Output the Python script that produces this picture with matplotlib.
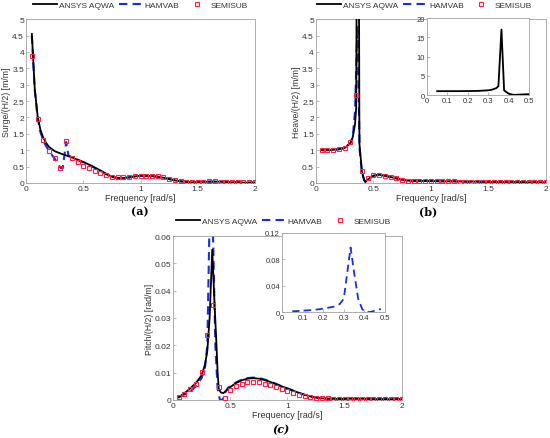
import numpy as np
import matplotlib
matplotlib.use("Agg")
import matplotlib.pyplot as plt
from matplotlib.ticker import FormatStrFormatter

# ---- data ----
# (a) surge
surge_aqwa_f = [0.05, 0.075, 0.1, 0.125, 0.15, 0.175, 0.2, 0.25, 0.3, 0.35, 0.4, 0.45, 0.5, 0.55,
                0.6, 0.65, 0.7, 0.75, 0.8, 0.85, 0.9, 0.95, 1.0, 1.05, 1.1, 1.15, 1.2, 1.25, 1.3,
                1.35, 1.4, 1.45, 1.5, 1.55, 1.6, 1.65, 1.7, 1.75, 1.8, 1.85, 1.9, 1.95, 2.0]
surge_aqwa = [4.55, 2.9, 2.05, 1.62, 1.38, 1.22, 1.1, 0.97, 0.9, 0.84, 0.78, 0.71, 0.64, 0.56,
              0.47, 0.38, 0.28, 0.19, 0.15, 0.15, 0.17, 0.2, 0.22, 0.22, 0.21, 0.19, 0.16, 0.12,
              0.08, 0.05, 0.03, 0.02, 0.02, 0.03, 0.04, 0.04, 0.04, 0.03, 0.02, 0.02, 0.01, 0.01, 0.01]
surge_ham_f = [0.05, 0.075, 0.1, 0.125, 0.15, 0.175, 0.2, 0.25, 0.3, 0.32, 0.35, 0.37, 0.4, 0.45,
               0.5, 0.55, 0.6, 0.65, 0.7, 0.75, 0.8, 0.85, 0.9, 0.95, 1.0, 1.05, 1.1, 1.15, 1.2,
               1.25, 1.3, 1.35, 1.4, 1.45, 1.5, 1.55, 1.6, 1.65, 1.7, 1.75, 1.8, 1.85, 1.9, 1.95, 2.0]
surge_ham = [4.5, 2.85, 2.0, 1.55, 1.3, 1.12, 0.97, 0.74, 0.46, 0.45, 1.25, 0.84, 0.78, 0.7,
             0.63, 0.55, 0.46, 0.37, 0.27, 0.19, 0.15, 0.15, 0.17, 0.2, 0.22, 0.22, 0.21, 0.19,
             0.16, 0.12, 0.08, 0.05, 0.03, 0.02, 0.02, 0.03, 0.04, 0.04, 0.04, 0.03, 0.02, 0.02,
             0.01, 0.01, 0.01]
semi_f = [0.05, 0.1, 0.15, 0.2, 0.25, 0.3, 0.35, 0.4, 0.45, 0.5, 0.55, 0.6, 0.65, 0.7, 0.75, 0.8,
          0.85, 0.9, 0.95, 1.0, 1.05, 1.1, 1.15, 1.2, 1.25, 1.3, 1.35, 1.4, 1.45, 1.5, 1.55, 1.6,
          1.65, 1.7, 1.75, 1.8, 1.85, 1.9, 1.95, 2.0]
surge_semi = [3.88, 1.95, 1.3, 0.97, 0.75, 0.45, 1.27, 0.77, 0.63, 0.53, 0.45, 0.36, 0.29, 0.23,
              0.18, 0.17, 0.17, 0.18, 0.2, 0.22, 0.22, 0.21, 0.2, 0.17, 0.12, 0.08, 0.06, 0.04,
              0.03, 0.03, 0.04, 0.05, 0.05, 0.04, 0.03, 0.03, 0.02, 0.02, 0.02, 0.02]

# (b) heave
heave_aqwa_f = [0.05, 0.1, 0.15, 0.2, 0.25, 0.3, 0.32, 0.34, 0.35, 0.365, 0.378, 0.4, 0.42, 0.43,
                0.45, 0.5, 0.55, 0.6, 0.65, 0.7, 0.75, 0.8, 0.9, 1.0, 1.1, 1.2, 1.3, 1.4, 1.5,
                1.6, 1.7, 1.8, 1.9, 2.0]
heave_aqwa = [1.0, 1.0, 1.01, 1.03, 1.07, 1.22, 1.4, 1.8, 2.3, 17.0, 1.2, 0.35, 0.08, 0.03,
              0.1, 0.22, 0.25, 0.22, 0.18, 0.14, 0.1, 0.07, 0.06, 0.06, 0.05, 0.05, 0.04, 0.04,
              0.03, 0.03, 0.03, 0.02, 0.02, 0.02]
heave_ham_f = [0.05, 0.1, 0.15, 0.2, 0.25, 0.3, 0.32, 0.34, 0.36, 0.38, 0.4, 0.42, 0.43, 0.45,
               0.5, 0.55, 0.6, 0.65, 0.7, 0.75, 0.8, 0.9, 1.0, 1.1, 1.2, 1.3, 1.4, 1.5, 1.6,
               1.7, 1.8, 1.9, 2.0]
heave_ham = [1.0, 1.0, 1.01, 1.03, 1.07, 1.22, 1.4, 2.2, 4.8, 1.0, 0.3, 0.08, 0.03, 0.1,
             0.22, 0.25, 0.22, 0.18, 0.14, 0.1, 0.07, 0.06, 0.06, 0.05, 0.05, 0.04, 0.04,
             0.03, 0.03, 0.03, 0.02, 0.02, 0.02]
heave_semi = [1.0, 1.0, 1.01, 1.03, 1.08, 1.25, 2.7, 0.35, 0.15, 0.25, 0.25, 0.22, 0.18, 0.14,
              0.1, 0.07, 0.06, 0.06, 0.06, 0.05, 0.05, 0.05, 0.05, 0.05, 0.04, 0.04, 0.04, 0.03,
              0.03, 0.03, 0.03, 0.03, 0.02, 0.02, 0.02, 0.02, 0.02, 0.02, 0.02, 0.02]

# (c) pitch
pitch_aqwa_f = [0.05, 0.1, 0.15, 0.2, 0.25, 0.28, 0.3, 0.32, 0.343, 0.36, 0.38, 0.39, 0.4, 0.42,
                0.44, 0.46, 0.5, 0.55, 0.6, 0.65, 0.7, 0.75, 0.8, 0.85, 0.9, 0.95, 1.0, 1.05,
                1.1, 1.15, 1.2, 1.25, 1.3, 1.4, 1.5, 1.6, 1.7, 1.8, 1.9, 2.0]
pitch_aqwa = [0.001, 0.0025, 0.0042, 0.0062, 0.009, 0.013, 0.018, 0.03, 0.055, 0.038, 0.02,
              0.01, 0.004, 0.0027, 0.0025, 0.0033, 0.0047, 0.0062, 0.0072, 0.0078, 0.008,
              0.0078, 0.0073, 0.0066, 0.0058, 0.005, 0.0042, 0.0034, 0.0026, 0.0019, 0.0013,
              0.0009, 0.0006, 0.0004, 0.0004, 0.0005, 0.0004, 0.0003, 0.0003, 0.0003]
pitch_ham_f = [0.05, 0.1, 0.15, 0.2, 0.25, 0.28, 0.3, 0.333, 0.35, 0.37, 0.39, 0.41, 0.43, 0.46,
               0.48, 0.5, 0.55, 0.6, 0.65, 0.7, 0.75, 0.8, 0.85, 0.9, 0.95, 1.0, 1.05, 1.1,
               1.15, 1.2, 1.25, 1.3, 1.4, 1.5, 1.6, 1.7, 1.8, 1.9, 2.0]
pitch_ham = [0.001, 0.002, 0.003, 0.005, 0.008, 0.012, 0.02, 0.098, 0.06, 0.02, 0.004, 0.0,
             0.0, 0.003, 0.0045, 0.005, 0.0064, 0.0074, 0.008, 0.0082, 0.008, 0.0075, 0.0067,
             0.0059, 0.005, 0.0042, 0.0034, 0.0026, 0.0019, 0.0013, 0.0009, 0.0006, 0.0004,
             0.0004, 0.0005, 0.0004, 0.0003, 0.0003, 0.0003]
pitch_semi = [0.001, 0.0022, 0.004, 0.006, 0.0102, 0.0238, 0.0347, 0.0047, 0.0008, 0.0035,
              0.005, 0.006, 0.0065, 0.0067, 0.0066, 0.006, 0.0054, 0.0047, 0.004, 0.0033,
              0.0026, 0.002, 0.0015, 0.0012, 0.0009, 0.0007, 0.0006, 0.0005, 0.0005, 0.0005,
              0.0005, 0.0005, 0.0005, 0.0004, 0.0004, 0.0004, 0.0003, 0.0003, 0.0003, 0.0003]

BLUE = '#1a2fd6'
RED = '#ff2040'
TXT = '#333333'
SPINE = '#a0a0a0'

plt.rcParams['font.family'] = ['Liberation Sans', 'DejaVu Sans']
plt.rcParams['font.size'] = 6

fig = plt.figure(figsize=(5.5, 4.39), dpi=100)


def style(ax, fs=6):
    for s in ax.spines.values():
        s.set_color(SPINE)
        s.set_linewidth(0.6)
    ax.tick_params(direction='in', length=2, width=0.5, color=SPINE, pad=1.5,
                   labelsize=fs, labelcolor=TXT, top=False, right=False)
    ax.xaxis.set_major_formatter(FormatStrFormatter('%g'))
    ax.yaxis.set_major_formatter(FormatStrFormatter('%g'))


def main_panel(rect, aqwa_f, aqwa, ham_f, ham, semi, ylim, yticks, ylabel):
    ax = fig.add_axes(rect)
    ax.plot(ham_f, ham, '--', color=BLUE, lw=1.5, dashes=(4, 2.5), zorder=2)
    ax.plot(aqwa_f, aqwa, '-', color='black', lw=1.3, zorder=3)
    ax.plot(semi_f, semi, 's', ms=3.2, mfc='none', mec=RED, mew=0.8, zorder=4)
    ax.set_xlim(0, 2)
    ax.set_ylim(*ylim)
    ax.set_xticks([0, 0.5, 1, 1.5, 2])
    ax.set_yticks(yticks)
    ax.set_xlabel('Frequency [rad/s]', fontsize=6.5, color=TXT, labelpad=1)
    ax.set_ylabel(ylabel, fontsize=6.3, color=TXT, labelpad=0.5)
    style(ax)
    return ax


def legend_at(x, y):
    h1, = plt.plot([], [], '-', color='black', lw=1.3)
    h2, = plt.plot([], [], '--', color=BLUE, lw=1.5, dashes=(4, 2.5))
    h3, = plt.plot([], [], 's', ms=3.2, mfc='none', mec=RED, mew=0.8)
    fig.legend([h1, h2, h3], ['ANSYS AQWA', 'HAMVAB', 'SEMISUB'], loc='center',
               bbox_to_anchor=(x, y), ncol=3, frameon=False, fontsize=6,
               handlelength=2.9, handletextpad=0.2, columnspacing=0.6, labelcolor=TXT)


ax_a = main_panel([0.0475, 0.581, 0.416, 0.373], surge_aqwa_f, surge_aqwa, surge_ham_f,
                  surge_ham, surge_semi, (0, 5), np.arange(0, 5.01, 0.5), 'Surge/(H/2) [m/m]')
ax_b = main_panel([0.5745, 0.581, 0.418, 0.373], heave_aqwa_f, heave_aqwa, heave_ham_f,
                  heave_ham, heave_semi, (0, 5), np.arange(0, 5.01, 0.5), 'Heave/(H/2) [m/m]')
ax_c = main_panel([0.3145, 0.0866, 0.4164, 0.3735], pitch_aqwa_f, pitch_aqwa, pitch_ham_f,
                  pitch_ham, pitch_semi, (0, 0.06), [0, 0.01, 0.02, 0.03, 0.04, 0.05, 0.06],
                  'Pitch/(H/2) [rad/m]')

# insets
in_b = fig.add_axes([0.7764, 0.7813, 0.1854, 0.1754])
fb = np.array(heave_aqwa_f)
in_b.plot(fb[fb <= 0.5], np.array(heave_aqwa)[fb <= 0.5], '-', color='black', lw=1.3)
in_b.set_xlim(0, 0.5)
in_b.set_ylim(0, 20)
in_b.set_xticks([0, 0.1, 0.2, 0.3, 0.4, 0.5])
in_b.set_yticks([0, 5, 10, 15, 20])
style(in_b, 5.5)

in_c = fig.add_axes([0.5127, 0.287, 0.1873, 0.18])
fc = np.array(pitch_ham_f)
in_c.plot(fc[fc <= 0.48], np.array(pitch_ham)[fc <= 0.48], '--', color=BLUE, lw=1.3,
          dashes=(4, 2.5))
in_c.set_xlim(0, 0.5)
in_c.set_ylim(0, 0.12)
in_c.set_xticks([0, 0.1, 0.2, 0.3, 0.4, 0.5])
in_c.set_yticks([0, 0.04, 0.08, 0.12])
style(in_c, 5.5)

legend_at(0.255, 0.986)
legend_at(0.772, 0.986)
legend_at(0.515, 0.494)

fig.text(0.255, 0.517, '(a)', ha='center', va='center', fontsize=8, fontweight='bold',
         family='DejaVu Serif')
fig.text(0.778, 0.517, '(b)', ha='center', va='center', fontsize=8, fontweight='bold',
         family='DejaVu Serif')
fig.text(0.511, 0.02, '(c)', ha='center', va='center', fontsize=8, fontweight='bold',
         fontstyle='italic', family='DejaVu Serif')

fig.savefig('out.png', dpi=100)
